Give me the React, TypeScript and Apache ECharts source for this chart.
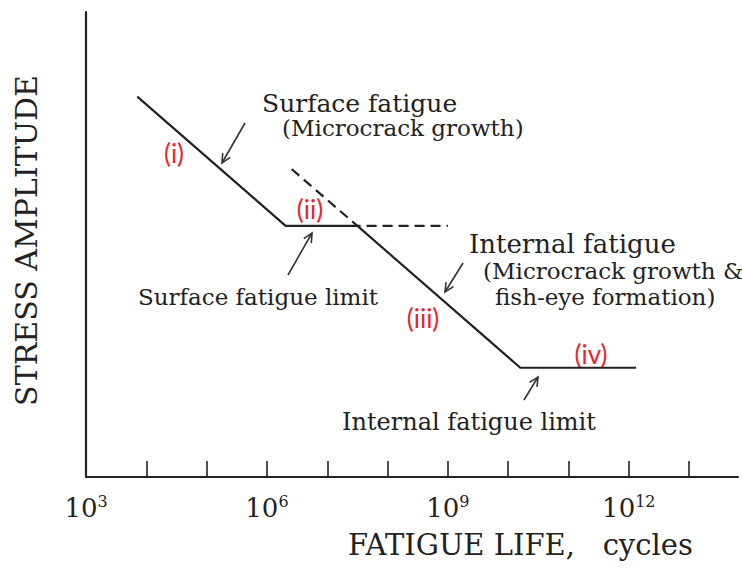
import React, { useEffect, useRef } from "react";
import * as echarts from "echarts";

// log10 of fatigue life (cycles) and relative stress amplitude
const solidLogN = [3.85, 6.31, 7.5, 10.2, 12.12];
const solidStress = [81.8, 54.0, 54.0, 23.5, 23.5];
const dashedLogN = [6.41, 7.5, 9.0];
const dashedStress = [66.2, 54.0, 54.0];
const tickExponents = [4, 5, 6, 7, 8, 9, 10, 11, 12, 13];
const labelExponents = [3, 6, 9, 12];

const SERIF = "DejaVu Serif";
const INK = "#222";
const RED = "#e8262e";

function arrow(x1: number, y1: number, x2: number, y2: number) {
  const ang = Math.atan2(y2 - y1, x2 - x1);
  const len = 10;
  const spread = 0.45;
  const a1 = ang + Math.PI - spread;
  const a2 = ang + Math.PI + spread;
  return [
    { type: "line", shape: { x1, y1, x2, y2 }, style: { stroke: "#333", lineWidth: 1.6 }, silent: true },
    {
      type: "polyline",
      shape: {
        points: [
          [x2 + len * Math.cos(a1), y2 + len * Math.sin(a1)],
          [x2, y2],
          [x2 + len * Math.cos(a2), y2 + len * Math.sin(a2)],
        ],
      },
      style: { stroke: "#333", lineWidth: 1.6, fill: null },
      silent: true,
    },
  ];
}

function txt(text: string, x: number, y: number, size: number, color = INK, family = SERIF) {
  return {
    type: "text",
    x,
    y,
    silent: true,
    style: { text, fontFamily: family, fontSize: size, fill: color, textAlign: "left", textVerticalAlign: "middle" },
  };
}

function redTxt(text: string, cx: number, cy: number) {
  return {
    type: "text",
    x: cx,
    y: cy,
    silent: true,
    style: { text, fontFamily: "Lato", fontSize: 26, fill: RED, textAlign: "center", textVerticalAlign: "middle" },
  };
}

export default function App() {
  const ref = useRef<HTMLDivElement>(null);
  useEffect(() => {
    document.body.style.margin = "0";
    const chart = echarts.init(ref.current!, null, { renderer: "svg" });
    chart.setOption({
      animation: false,
      backgroundColor: "#fff",
      grid: { left: 86, right: 4, top: 12, bottom: 92 },
      xAxis: {
        type: "value",
        min: 3,
        max: 13.81,
        interval: 1,
        splitLine: { show: false },
        axisLine: { show: true, lineStyle: { color: INK, width: 2.2 } },
        axisTick: { show: true, inside: true, length: 16, customValues: tickExponents, lineStyle: { color: INK, width: 1.6 } },
        axisLabel: {
          show: true,
          margin: 16,
          customValues: labelExponents,
          formatter: (v: number) => `{b|10}{s|${v}}`,
          rich: {
            b: { fontFamily: SERIF, fontSize: 26, color: INK, lineHeight: 30 },
            s: { fontFamily: SERIF, fontSize: 16, color: INK, verticalAlign: "top", lineHeight: 18 },
          },
        },
      },
      yAxis: {
        type: "value",
        min: 0,
        max: 100,
        name: "STRESS AMPLITUDE",
        nameLocation: "middle",
        nameGap: 45,
        nameRotate: 90,
        nameTextStyle: { fontFamily: SERIF, fontSize: 30, color: INK, padding: [0, 0, 0, 8] },
        splitLine: { show: false },
        axisLine: { show: true, onZero: false, lineStyle: { color: INK, width: 2.2 } },
        axisTick: { show: false },
        axisLabel: { show: false },
      },
      series: [
        {
          type: "line",
          data: solidLogN.map((x, i) => [x, solidStress[i]]),
          symbol: "none",
          lineStyle: { color: INK, width: 2.2 },
          silent: true,
        },
        {
          type: "line",
          data: dashedLogN.map((x, i) => [x, dashedStress[i]]),
          symbol: "none",
          lineStyle: { color: INK, width: 2.2, type: [10, 6] },
          silent: true,
        },
      ],
      graphic: [
        txt("Surface fatigue", 262, 103, 25),
        txt("(Microcrack growth)", 282, 128, 23),
        txt("Surface fatigue limit", 138, 297, 23),
        txt("Internal fatigue", 469, 244, 26),
        txt("(Microcrack growth &", 483, 271, 23),
        txt("fish-eye formation)", 495, 297, 23),
        txt("Internal fatigue limit", 342, 422, 24),
        txt("FATIGUE LIFE,   cycles", 348, 545, 29),
        redTxt("(i)", 174, 153),
        redTxt("(ii)", 310, 209),
        redTxt("(iii)", 423, 318),
        redTxt("(iv)", 591, 354),
        ...arrow(245, 123, 222, 163),
        ...arrow(288, 275, 312, 233),
        ...arrow(463, 263, 445, 292),
        ...arrow(524, 400, 538, 377),
      ],
    });
    return () => chart.dispose();
  }, []);
  return <div ref={ref} style={{ width: 742, height: 569 }} />;
}
